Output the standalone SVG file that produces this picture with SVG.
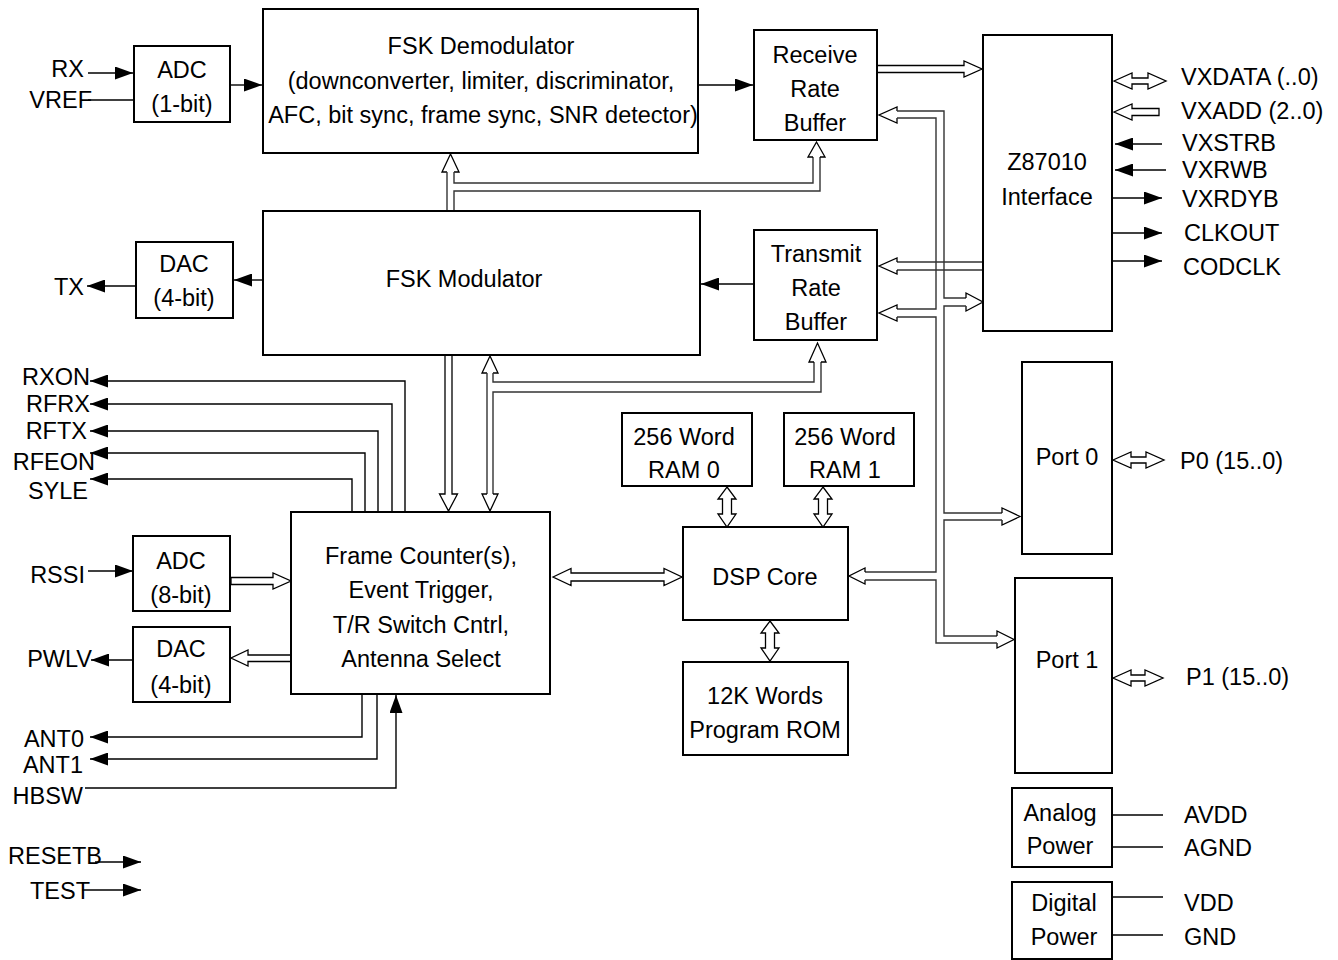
<svg xmlns="http://www.w3.org/2000/svg" width="1338" height="960" viewBox="0 0 1338 960">
<defs>
<style>
.box{fill:#fff;stroke:#000;stroke-width:2}
.w{stroke:#000;stroke-width:1.4;fill:none}
.bus{stroke:#333;stroke-width:1.4;fill:none}
.hh{fill:#fff;stroke:#000;stroke-width:1.3}
text{font-family:"Liberation Sans",Arial,sans-serif;font-size:23.5px;fill:#000}
.c{text-anchor:middle}
.e{text-anchor:end}
</style>
<marker id="ah" markerUnits="userSpaceOnUse" markerWidth="18" markerHeight="13" refX="18" refY="6.5" orient="auto">
<path d="M0,0 L18,6.5 L0,13 z" fill="#000"/>
</marker>
</defs>
<rect width="1338" height="960" fill="#fff"/>

<g id="connectors">
<!-- solid signal wires -->
<path class="w" d="M88,73 H133" marker-end="url(#ah)"/>
<path class="w" d="M88,100 H134"/>
<path class="w" d="M230,85 H262" marker-end="url(#ah)"/>
<path class="w" d="M698,85 H753" marker-end="url(#ah)"/>
<path class="w" d="M263,280 H234" marker-end="url(#ah)"/>
<path class="w" d="M136,286 H87" marker-end="url(#ah)"/>
<path class="w" d="M754,284 H701" marker-end="url(#ah)"/>
<path class="w" d="M405,512 V381 H90" marker-end="url(#ah)"/>
<path class="w" d="M392,512 V404 H90" marker-end="url(#ah)"/>
<path class="w" d="M378,512 V431 H90" marker-end="url(#ah)"/>
<path class="w" d="M365,512 V453 H90" marker-end="url(#ah)"/>
<path class="w" d="M352,512 V479 H90" marker-end="url(#ah)"/>
<path class="w" d="M88,571 H133" marker-end="url(#ah)"/>
<path class="w" d="M133,660 H91" marker-end="url(#ah)"/>
<path class="w" d="M362,694 V737 H90" marker-end="url(#ah)"/>
<path class="w" d="M377,694 V759 H90" marker-end="url(#ah)"/>
<path class="w" d="M85,788 H396 V695" marker-end="url(#ah)"/>
<path class="w" d="M95,862 H141" marker-end="url(#ah)"/>
<path class="w" d="M82,890 H141" marker-end="url(#ah)"/>
<path class="w" d="M1162,144 H1115" marker-end="url(#ah)"/>
<path class="w" d="M1166,170 H1115" marker-end="url(#ah)"/>
<path class="w" d="M1113,198 H1162" marker-end="url(#ah)"/>
<path class="w" d="M1112,233 H1162" marker-end="url(#ah)"/>
<path class="w" d="M1113,261 H1162" marker-end="url(#ah)"/>
<path class="w" d="M1112,815 H1163"/>
<path class="w" d="M1112,847 H1163"/>
<path class="w" d="M1112,897 H1163"/>
<path class="w" d="M1112,935 H1163"/>

<!-- simple hollow arrows -->
<polygon class="hh" points="877,65.5 964,65.5 964,61 982,69 964,77 964,72.5 877,72.5"/>
<polygon class="hh" points="1114,81 1132,73 1132,78 1148,78 1148,73 1166,81 1148,89 1148,84 1132,84 1132,89"/>
<polygon class="hh" points="1114,112 1132,104 1132,108.5 1159,108.5 1159,115.5 1132,115.5 1132,120"/>
<polygon class="hh" points="1113,460 1131,452 1131,457 1146,457 1146,452 1164,460 1146,468 1146,463 1131,463 1131,468"/>
<polygon class="hh" points="1113,678 1131,670 1131,675 1145,675 1145,670 1163,678 1145,686 1145,681 1131,681 1131,686"/>
<polygon class="hh" points="231,577.5 273,577.5 273,573 291,581 273,589 273,584.5 231,584.5"/>
<polygon class="hh" points="291,655 248,655 248,650 231,658 248,666 248,661.5 291,661.5"/>
<polygon class="hh" points="553,577 571,568.5 571,573 664,573 664,568.5 682,577 664,585.5 664,581 571,581 571,585.5"/>
<polygon class="hh" points="727,487 736,499 731.5,499 731.5,514 736,514 727,527 718,514 722.5,514 722.5,499 718,499"/>
<polygon class="hh" points="823,487 832,499 827.5,499 827.5,514 832,514 823,527 814,514 818.5,514 818.5,499 814,499"/>
<polygon class="hh" points="770,621 779,633 774.5,633 774.5,648 779,648 770,661 761,648 765.5,648 765.5,633 761,633"/>
<polygon class="hh" points="445,355 445,494 439.5,494 448.5,511 457.5,494 452,494 452,355"/>

<!-- bus: modulator -> demod / receive buffer -->
<path class="hh" d="M447,172 H442 L450.5,154 L459,172 H454"/>
<path class="bus" d="M447,172 V211"/>
<path class="bus" d="M454,172 V183 H813 V157"/>
<path class="bus" d="M454,211 V191 H820 V157"/>
<path class="hh" d="M813,157 H808 L816.5,142 L825,157 H820"/>

<!-- bus: modulator <-> frame counter, transmit buffer -->
<path class="hh" d="M487,373 H482 L490,356 L498,373 H493"/>
<path class="bus" d="M487,373 V494"/>
<path class="bus" d="M493,373 V382 H814 V362"/>
<path class="bus" d="M493,494 V392 H821 V362"/>
<path class="hh" d="M814,362 H809 L817.5,343 L826,362 H821"/>
<path class="hh" d="M487,494 H482 L490,511 L498,494 H493"/>

<!-- bus: Z87010 interface side -->
<path class="hh" d="M897,111 V107 L879,115 L897,123 V118"/>
<path class="bus" d="M897,111 H944 V298 H966"/>
<path class="hh" d="M966,298 V293 L983,302 L966,311 V306"/>
<path class="bus" d="M966,306 H944 V513 H1002"/>
<path class="hh" d="M1002,513 V508 L1020,516.5 L1002,525 V520"/>
<path class="bus" d="M1002,520 H944 V636 H997"/>
<path class="hh" d="M997,636 V631 L1014,639.5 L997,648 V643"/>
<path class="bus" d="M897,118 H936 V309 H897"/>
<path class="hh" d="M897,309 V305 L879,313 L897,321 V317"/>
<path class="bus" d="M897,317 H936 V572 H865"/>
<path class="hh" d="M865,572 V568 L849,576 L865,584 V580"/>
<path class="bus" d="M865,580 H936 V643 H997"/>
<path class="bus" d="M983,262 H897 M983,270 H897"/>
<path class="hh" d="M897,262 V258 L879,266 L897,274 V270"/>
</g>

<g id="adc1"><rect class="box" x="134" y="46" width="96" height="76"/><text class="c" x="182" y="78">ADC</text><text class="c" x="182" y="112">(1-bit)</text></g>
<g id="fskdemod"><rect class="box" x="263" y="9" width="435" height="144"/><text class="c" x="481" y="54">FSK Demodulator</text><text class="c" x="481" y="89">(downconverter, limiter, discriminator,</text><text class="c" x="483" y="123">AFC, bit sync, frame sync, SNR detector)</text></g>
<g id="rxbuf"><rect class="box" x="754" y="30" width="123" height="110"/><text class="c" x="815" y="63">Receive</text><text class="c" x="815" y="97">Rate</text><text class="c" x="815" y="131">Buffer</text></g>
<g id="z87010"><rect class="box" x="983" y="35" width="129" height="296"/><text class="c" x="1047" y="170">Z87010</text><text class="c" x="1047" y="205">Interface</text></g>
<g id="fskmod"><rect class="box" x="263" y="211" width="437" height="144"/><text class="c" x="464" y="287">FSK Modulator</text></g>
<g id="txbuf"><rect class="box" x="754" y="230" width="123" height="110"/><text class="c" x="816" y="262">Transmit</text><text class="c" x="816" y="296">Rate</text><text class="c" x="816" y="330">Buffer</text></g>
<g id="dac1"><rect class="box" x="136" y="242" width="97" height="76"/><text class="c" x="184" y="272">DAC</text><text class="c" x="184" y="306">(4-bit)</text></g>
<g id="framecounter"><rect class="box" x="291" y="512" width="259" height="182"/><text class="c" x="421" y="564">Frame Counter(s),</text><text class="c" x="421" y="598">Event Trigger,</text><text class="c" x="421" y="633">T/R Switch Cntrl,</text><text class="c" x="421" y="667">Antenna Select</text></g>
<g id="adc8"><rect class="box" x="133" y="536" width="97" height="75"/><text class="c" x="181" y="569">ADC</text><text class="c" x="181" y="603">(8-bit)</text></g>
<g id="dac2"><rect class="box" x="133" y="627" width="97" height="75"/><text class="c" x="181" y="657">DAC</text><text class="c" x="181" y="693">(4-bit)</text></g>
<g id="ram0"><rect class="box" x="622" y="413" width="130" height="73"/><text class="c" x="684" y="445">256 Word</text><text class="c" x="684" y="478">RAM 0</text></g>
<g id="ram1"><rect class="box" x="784" y="413" width="130" height="73"/><text class="c" x="845" y="445">256 Word</text><text class="c" x="845" y="478">RAM 1</text></g>
<g id="dspcore"><rect class="box" x="683" y="527" width="165" height="93"/><text class="c" x="765" y="585">DSP Core</text></g>
<g id="rom"><rect class="box" x="683" y="662" width="165" height="93"/><text class="c" x="765" y="704">12K Words</text><text class="c" x="765" y="738">Program ROM</text></g>
<g id="port0"><rect class="box" x="1022" y="362" width="90" height="192"/><text class="c" x="1067" y="465">Port 0</text></g>
<g id="port1"><rect class="box" x="1015" y="578" width="97" height="195"/><text class="c" x="1067" y="668">Port 1</text></g>
<g id="analogpower"><rect class="box" x="1012" y="788" width="100" height="79"/><text class="c" x="1060" y="821">Analog</text><text class="c" x="1060" y="854">Power</text></g>
<g id="digitalpower"><rect class="box" x="1012" y="882" width="100" height="77"/><text class="c" x="1064" y="911">Digital</text><text class="c" x="1064" y="945">Power</text></g>

<g id="pins">
<text class="e" x="84" y="77">RX</text>
<text class="e" x="92" y="108">VREF</text>
<text class="e" x="84" y="295">TX</text>
<text class="e" x="90" y="385">RXON</text>
<text class="e" x="90" y="412">RFRX</text>
<text class="e" x="87" y="439">RFTX</text>
<text class="e" x="95" y="470">RFEON</text>
<text class="e" x="88" y="499">SYLE</text>
<text class="e" x="85" y="583">RSSI</text>
<text class="e" x="92" y="667">PWLV</text>
<text class="e" x="84" y="747">ANT0</text>
<text class="e" x="83" y="773">ANT1</text>
<text class="e" x="83" y="804">HBSW</text>
<text x="8" y="864">RESETB</text>
<text x="30" y="899">TEST</text>
<text x="1181" y="85">VXDATA (..0)</text>
<text x="1181" y="119">VXADD (2..0)</text>
<text x="1182" y="151">VXSTRB</text>
<text x="1182" y="178">VXRWB</text>
<text x="1182" y="207">VXRDYB</text>
<text x="1184" y="241">CLKOUT</text>
<text x="1183" y="275">CODCLK</text>
<text x="1180" y="469">P0 (15..0)</text>
<text x="1186" y="685">P1 (15..0)</text>
<text x="1184" y="823">AVDD</text>
<text x="1184" y="856">AGND</text>
<text x="1184" y="911">VDD</text>
<text x="1184" y="945">GND</text>
</g>
</svg>
